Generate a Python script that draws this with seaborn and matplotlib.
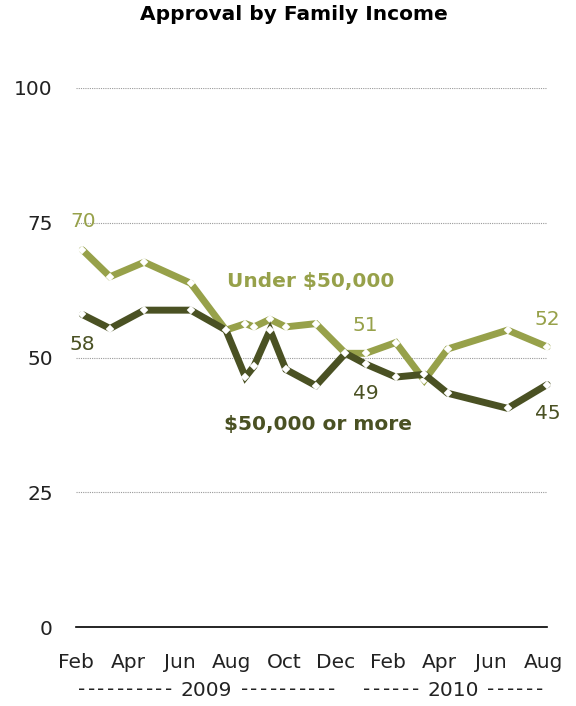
import numpy as np
import pandas as pd
import matplotlib
matplotlib.use("Agg")
import matplotlib.pyplot as plt
import seaborn as sns
from matplotlib.ticker import MultipleLocator

# Months since Feb 2009 (poll dates)
months = [0.23, 1.30, 2.62, 4.41, 5.77, 6.52, 6.85, 7.47, 8.08, 9.24,
          10.38, 11.16, 12.32, 13.42, 14.32, 16.63, 18.16]
under_50k = [70, 65, 67.7, 63.8, 55.1, 56.3, 55.7, 57.1, 55.7, 56.3,
             50.8, 50.8, 52.8, 45.8, 51.6, 55.1, 52]
over_50k = [58, 55.4, 58.8, 58.8, 55.1, 46.4, 48.4, 55.1, 47.8, 44.8,
            50.8, 48.8, 46.4, 46.9, 43.4, 40.6, 45]
series_names = ["Under $50,000", "$50,000 or more"]
tick_labels = ["Feb", "Apr", "Jun", "Aug", "Oct", "Dec", "Feb", "Apr", "Jun", "Aug"]
year_labels = ["2009", "2010"]
year_dashes = [10, 6]
y_ticks = [0, 25, 50, 75, 100]

LIGHT = "#97A14A"
DARK = "#4A5123"
TXT = "#222222"

df = pd.concat([
    pd.DataFrame({"month": months, "value": under_50k, "group": series_names[0]}),
    pd.DataFrame({"month": months, "value": over_50k, "group": series_names[1]}),
])

sns.set_theme(style="white")
plt.rcParams["font.family"] = ["DejaVu Sans"]

W, H = 576, 706
fig = plt.figure(figsize=(W / 100, H / 100), dpi=100)
ax = fig.add_axes([0.1325, 0.1115, 0.818, 0.7639])

sns.lineplot(data=df, x="month", y="value", hue="group",
             hue_order=series_names, palette=[LIGHT, DARK],
             linewidth=5, marker="D", markersize=4.4,
             markerfacecolor="white", markeredgecolor="white",
             markeredgewidth=0.3, legend=False, ax=ax, clip_on=False,
             solid_joinstyle="miter")

ax.set_xlim(0, 18.17)
ax.set_ylim(0, 100)
ax.set_yticks(y_ticks)
ax.set_yticklabels([str(v) for v in y_ticks])
ax.set_xticks(np.arange(0, 19, 2))
ax.set_xticklabels(tick_labels)
ax.xaxis.set_minor_locator(MultipleLocator(1))
ax.set_xlabel("")
ax.set_ylabel("")

for s in ["top", "right", "left"]:
    ax.spines[s].set_visible(False)
ax.spines["bottom"].set_color("black")
ax.spines["bottom"].set_linewidth(1.2)
ax.spines["bottom"].set_zorder(5)

ax.yaxis.grid(True, linestyle=(0, (1, 1)), color="#9a9a9a", linewidth=0.8)
ax.xaxis.grid(False)
ax.set_axisbelow(True)

ax.tick_params(axis="y", length=0, pad=17, labelsize=14.5, labelcolor=TXT)
ax.tick_params(axis="x", which="major", direction="inout", length=8.6,
               width=1.0, color="#555555", pad=14, labelsize=14.5,
               labelcolor=TXT)
ax.tick_params(axis="x", which="minor", direction="in", length=3.6,
               width=1.0, color="#777777")

# Year labels under month labels: year text centred with evenly spaced dashes
def year_row(year, n_dash, x0, x1, yc):
    xc = (x0 + x1) / 2
    fig.text(xc / W, 1 - yc / H, year, ha="center", va="center",
             fontsize=14.5, color=TXT)
    half_year = 27
    step = ((xc - half_year - 6) - x0) / n_dash
    for i in range(n_dash):
        xl = x0 + step * (i + 0.5)
        xr = xc + half_year + 6 + step * (i + 0.5)
        for xx in (xl, xr):
            fig.text(xx / W, 1 - yc / H, "-", ha="center", va="center",
                     fontsize=14.5, color=TXT)

year_row(year_labels[0], year_dashes[0], 77, 336, 690)
year_row(year_labels[1], year_dashes[1], 362, 544, 690)

# Title
fig.text(294 / W, 1 - 15 / H, "Approval by Family Income", ha="center",
         va="center", fontsize=14.5, fontweight="bold", color="black")

def px2data(px, py):
    return (px - 76.3) / 25.94, 100 * (627.3 - py) / 539.3

# Series labels
x, y = px2data(311, 282)
ax.text(x, y, series_names[0], ha="center", va="center", fontsize=14.5,
        fontweight="bold", color=LIGHT)
x, y = px2data(318.5, 425)
ax.text(x, y, series_names[1], ha="center", va="center", fontsize=14.5,
        fontweight="bold", color=DARK)

# Value labels
for (px, py, val, col) in [
    (83, 222, under_50k[0], LIGHT),
    (82.5, 345, over_50k[0], DARK),
    (365, 325.5, under_50k[11], LIGHT),
    (366, 393.5, over_50k[11], DARK),
    (547.5, 320, under_50k[-1], LIGHT),
    (547.5, 414, over_50k[-1], DARK),
]:
    x, y = px2data(px, py)
    ax.text(x, y, f"{round(val):d}", ha="center", va="center",
            fontsize=14.5, color=col, clip_on=False)

fig.savefig("out.png", dpi=100, facecolor="white")
